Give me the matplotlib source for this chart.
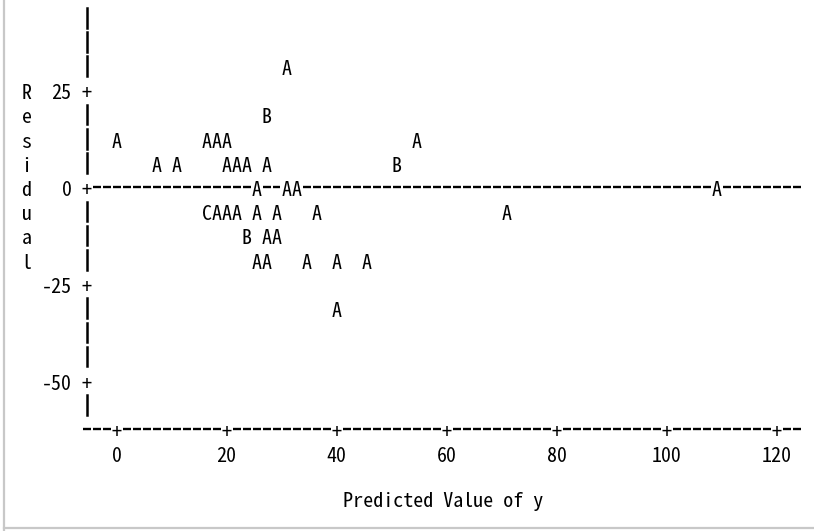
import numpy as np
import matplotlib
matplotlib.use('Agg')
from matplotlib import pyplot as plt
from matplotlib import font_manager
from matplotlib.lines import Line2D

# Residual plot values
# (plot symbol: A = 1 obs, B = 2 obs, C = 3 obs)
predicted = [30.9, 27.3,
             0.0, 16.4, 18.2, 20.0, 54.5,
             7.3, 10.9, 20.0, 21.8, 23.6, 27.3, 50.9,
             25.5, 30.9, 32.7, 109.1,
             16.4, 18.2, 20.0, 21.8, 25.5, 29.1, 36.4, 70.9,
             23.6, 27.3, 29.1,
             25.5, 27.3, 34.5, 40.0, 45.5,
             40.0]
residual = [31.25, 18.75,
            12.5, 12.5, 12.5, 12.5, 12.5,
            6.25, 6.25, 6.25, 6.25, 6.25, 6.25, 6.25,
            0.0, 0.0, 0.0, 0.0,
            -6.25, -6.25, -6.25, -6.25, -6.25, -6.25, -6.25, -6.25,
            -12.5, -12.5, -12.5,
            -18.75, -18.75, -18.75, -18.75, -18.75,
            -31.25]
n_obs = [1, 2,
         1, 1, 1, 1, 1,
         1, 1, 1, 1, 1, 1, 2,
         1, 1, 1, 1,
         3, 1, 1, 1, 1, 1, 1, 1,
         2, 1, 1,
         1, 1, 1, 1, 1,
         1]

x_ticks = [0, 20, 40, 60, 80, 100, 120]
y_ticks = [25, 0, -25, -50]
y_title = "Residual"
x_title = "Predicted Value of y"

# half-width gothic font looks like the printer output
font, fs = 'DejaVu Sans Mono', 12.5
for name, size in [('Noto Sans Mono CJK JP', 14.4), ('Noto Sans Mono CJK SC', 14.4),
                   ('Liberation Sans Narrow', 13)]:
    try:
        font_manager.findfont(name, fallback_to_default=False)
        font, fs = name, size
        break
    except ValueError:
        pass

plt.rcParams['font.family'] = [font, 'DejaVu Sans']
plt.rcParams['lines.scale_dashes'] = False

# line-printer grid: one column = 20/11 units, one row = 6.25 units
col = 20 / 11
row = 6.25
base = 2.3          # baseline drop below the row centre
axis_x = -3 * col
axis_y = -10 * row

W, H = 814, 531
fig = plt.figure(figsize=(W / 100, H / 100), dpi=100)
ax = fig.add_axes([0, 0, 1, 1])
ax.set_xlim(-116.5 / 5.5, (W - 116.5) / 5.5)
ax.set_ylim((187 - H) / 3.872, 187 / 3.872)
ax.axis('off')

dash = dict(color='black', linewidth=1.7, dashes=(5.76, 1.44), zorder=1)
white = dict(boxstyle='square,pad=0.05', fc='white', ec='none')

# vertical axis made of '|' per row
for r in np.arange(43.75, -57, -row):
    if r in y_ticks:
        continue
    ax.plot([axis_x, axis_x], [r - 2.6, r + 2.5], color='black', linewidth=1.8)

for t in y_ticks:
    ax.text(axis_x, t - base, '+', ha='center', va='baseline', fontsize=fs)
    ax.text(-4.5 * col, t - base, str(t), ha='right', va='baseline', fontsize=fs)

# zero reference line
ax.plot([axis_x + col / 2 + 0.2, 68.5 * col], [0, 0], **dash)

# horizontal axis
ax.plot([-3.5 * col + 0.2, 68.5 * col], [axis_y, axis_y], **dash)
for t in x_ticks:
    ax.text(t, axis_y - base, '+', ha='center', va='baseline', fontsize=fs,
            bbox=white, zorder=2)
    ax.text(t, -68.75 - base, str(t), ha='center', va='baseline', fontsize=fs)

# vertical title, one letter per row
for i, ch in enumerate(y_title):
    ax.text(-9 * col, 25 - i * row - base, ch, ha='center', va='baseline', fontsize=fs)

ax.text(59.4, -82.6, x_title, ha='center', va='baseline', fontsize=fs)

# plotted points: white patch under each symbol first, then the symbols
for x, y, n in zip(predicted, residual, n_obs):
    sym = chr(ord('A') + n - 1)
    ax.text(x, y - base, sym, ha='center', va='baseline', fontsize=fs,
            color='white', bbox=white, zorder=2)
for x, y, n in zip(predicted, residual, n_obs):
    sym = chr(ord('A') + n - 1)
    ax.text(x, y - base, sym, ha='center', va='baseline', fontsize=fs, zorder=3)

# grey frame on the left and bottom
fig.add_artist(Line2D([4 / W, 4 / W], [0, 1], color='#c8c8c8', linewidth=1.6,
                      transform=fig.transFigure))
fig.add_artist(Line2D([4 / W, 1], [1 - 528 / H, 1 - 528 / H], color='#c8c8c8',
                      linewidth=1.6, transform=fig.transFigure))

plt.savefig('out.png', dpi=100)
